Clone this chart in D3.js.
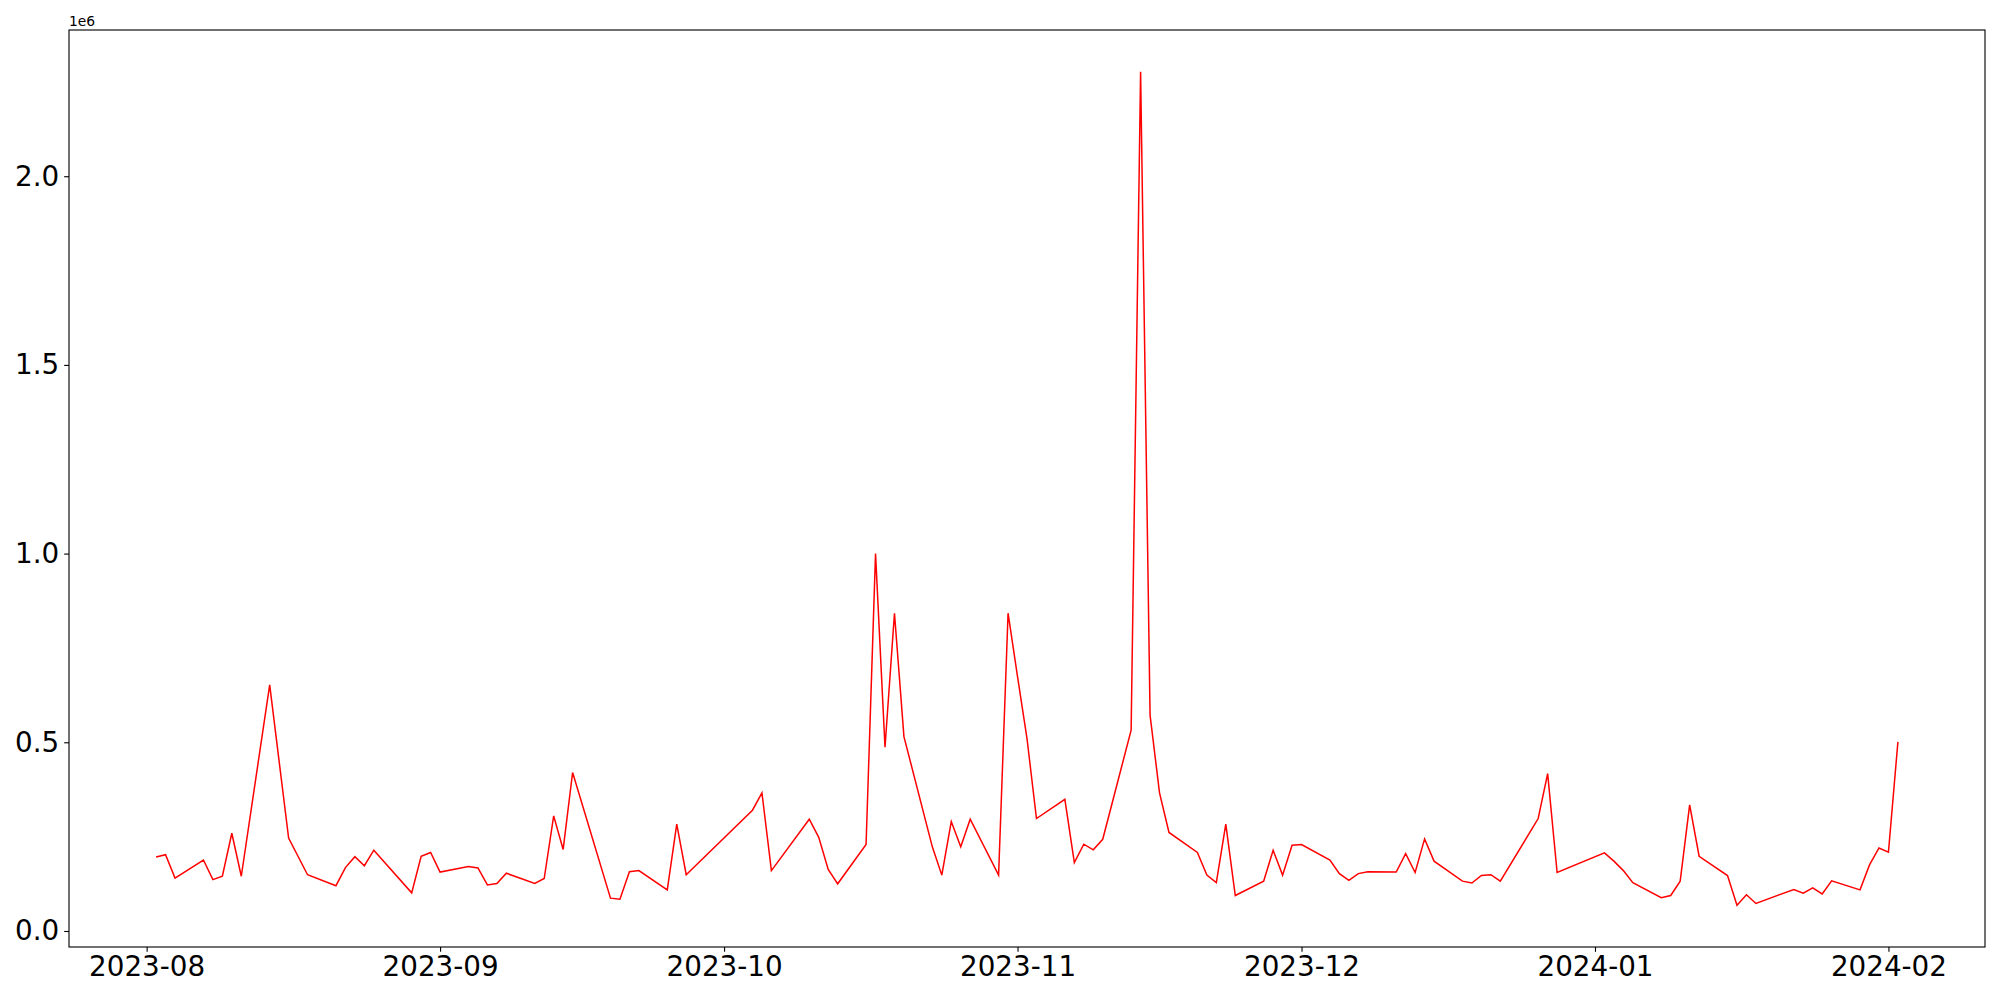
<!DOCTYPE html>
<html>
<head>
<meta charset="utf-8">
<script src="https://cdn.jsdelivr.net/npm/d3@7"></script>
<style>
  html, body { margin: 0; padding: 0; background: #fff; }
  svg text { font-family: "DejaVu Sans", sans-serif; fill: #000; }
</style>
</head>
<body>
<div id="chart"></div>
<script>
// trading days and values
const dates = [
  '2023-08-02','2023-08-03','2023-08-04','2023-08-07','2023-08-08','2023-08-09','2023-08-10','2023-08-11',
  '2023-08-14','2023-08-16','2023-08-18','2023-08-21','2023-08-22','2023-08-23','2023-08-24','2023-08-25',
  '2023-08-29','2023-08-30','2023-08-31','2023-09-01','2023-09-04','2023-09-05','2023-09-06','2023-09-07',
  '2023-09-08','2023-09-11','2023-09-12','2023-09-13','2023-09-14','2023-09-15','2023-09-19','2023-09-20',
  '2023-09-21','2023-09-22','2023-09-25','2023-09-26','2023-09-27','2023-10-04','2023-10-05','2023-10-06',
  '2023-10-10','2023-10-11','2023-10-12','2023-10-13','2023-10-16','2023-10-17','2023-10-18','2023-10-19',
  '2023-10-20','2023-10-23','2023-10-24','2023-10-25','2023-10-26','2023-10-27','2023-10-30','2023-10-31',
  '2023-11-01','2023-11-02','2023-11-03','2023-11-06','2023-11-07','2023-11-08','2023-11-09','2023-11-10',
  '2023-11-13','2023-11-14','2023-11-15','2023-11-16','2023-11-17','2023-11-20','2023-11-21','2023-11-22',
  '2023-11-23','2023-11-24','2023-11-27','2023-11-28','2023-11-29','2023-11-30','2023-12-01','2023-12-04',
  '2023-12-05','2023-12-06','2023-12-07','2023-12-08','2023-12-11','2023-12-12','2023-12-13','2023-12-14',
  '2023-12-15','2023-12-18','2023-12-19','2023-12-20','2023-12-21','2023-12-22','2023-12-26','2023-12-27',
  '2023-12-28','2024-01-02','2024-01-03','2024-01-04','2024-01-05','2024-01-08','2024-01-09','2024-01-10',
  '2024-01-11','2024-01-12','2024-01-15','2024-01-16','2024-01-17','2024-01-18','2024-01-22','2024-01-23',
  '2024-01-24','2024-01-25','2024-01-26','2024-01-29','2024-01-30','2024-01-31','2024-02-01','2024-02-02'
]

const values = [
  196000, 202000, 140000, 188000, 136000, 145000, 259000, 145000,
  652000, 246000, 149000, 120000, 168000, 197000, 173000, 214000,
  101000, 198000, 208000, 156000, 171000, 167000, 122000, 126000,
  153000, 126000, 139000, 305000, 216000, 420000, 87000, 84000,
  157000, 160000, 109000, 283000, 149000, 320000, 366000, 160000,
  296000, 248000, 163000, 125000, 229000, 1000000, 487000, 842000,
  515000, 223000, 148000, 290000, 223000, 296000, 148000, 842000,
  674000, 510000, 298000, 349000, 181000, 230000, 215000, 243000,
  532000, 2277000, 572000, 366000, 261000, 208000, 148000, 128000,
  283000, 94000, 132000, 214000, 148000, 227000, 229000, 188000,
  152000, 134000, 152000, 157000, 156000, 205000, 155000, 244000,
  185000, 132000, 127000, 147000, 149000, 132000, 298000, 417000,
  155000, 207000, 185000, 160000, 128000, 88000, 94000, 132000,
  334000, 198000, 147000, 68000, 96000, 73000, 110000, 100000,
  114000, 98000, 133000, 109000, 175000, 220000, 209000, 501000
]

const yTicks = [0, 0.5e6, 1.0e6, 1.5e6, 2.0e6]
const yTickLabels = ['0.0', '0.5', '1.0', '1.5', '2.0']

const width = 2000
const height = 1000
const margin = {top: 30, right: 15, bottom: 53, left: 69}
const pt = 100 / 72

const parse = d3.utcParse('%Y-%m-%d')
const data = dates.map((d, i) => ({date: parse(d), value: values[i]}))

// matplotlib style 5% margins
const [x0, x1] = d3.extent(data, d => +d.date)
const xPad = (x1 - x0) * 0.05
const [y0, y1] = d3.extent(data, d => d.value)
const yPad = (y1 - y0) * 0.05

const x = d3.scaleUtc()
            .domain([new Date(x0 - xPad), new Date(x1 + xPad)])
            .range([margin.left, width - margin.right])

const y = d3.scaleLinear()
            .domain([y0 - yPad, y1 + yPad])
            .range([height - margin.bottom, margin.top])

const svg = d3.select('#chart').append('svg')
              .attr('width', width)
              .attr('height', height)

const line = d3.line()
               .x(d => x(d.date))
               .y(d => y(d.value))

svg.append('path')
   .datum(data)
   .attr('fill', 'none')
   .attr('stroke', '#ff0000')
   .attr('stroke-width', 1.5)
   .attr('stroke-linejoin', 'miter')
   .attr('d', line)

const xAxis = svg.append('g')
                 .attr('transform', `translate(0,${height - margin.bottom})`)
                 .call(d3.axisBottom(x)
                         .ticks(d3.utcMonth.every(1))
                         .tickFormat(d3.utcFormat('%Y-%m'))
                         .tickSize(3.5 * pt)
                         .tickPadding(3.5 * pt))

const yAxis = svg.append('g')
                 .attr('transform', `translate(${margin.left},0)`)
                 .call(d3.axisLeft(y)
                         .tickValues(yTicks)
                         .tickFormat((d, i) => yTickLabels[i])
                         .tickSize(3.5 * pt)
                         .tickPadding(3.5 * pt))

;[xAxis, yAxis].forEach(g => {
    g.select('.domain').remove()
    g.selectAll('.tick line').attr('stroke', '#000').attr('stroke-width', 0.8 * pt)
    g.selectAll('.tick text')
     .style('font-family', '"DejaVu Sans", sans-serif')
     .style('font-size', (20 * pt) + 'px')
     .attr('fill', '#000')
})

// axes frame
svg.append('rect')
   .attr('x', margin.left)
   .attr('y', margin.top)
   .attr('width', width - margin.left - margin.right)
   .attr('height', height - margin.top - margin.bottom)
   .attr('fill', 'none')
   .attr('stroke', '#000')
   .attr('stroke-width', 0.8 * pt)

// offset text
svg.append('text')
   .attr('x', margin.left)
   .attr('y', margin.top - 4)
   .style('font-size', (10 * pt) + 'px')
   .text('1e6')
</script>
</body>
</html>
